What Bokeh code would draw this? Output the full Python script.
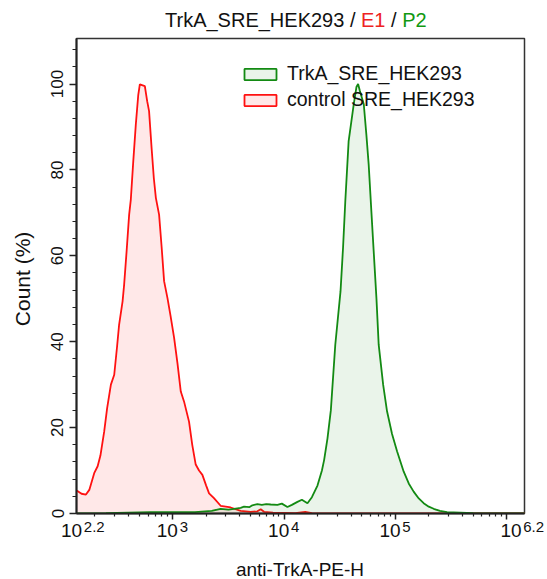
from bokeh.plotting import figure
from bokeh.layouts import column
from bokeh.models import Range1d, FixedTicker, Legend, LegendItem, Div
from bokeh.embed import file_html
from bokeh.resources import INLINE

# ---- data (x in log10 decades of anti-TrkA-PE-H, y in Count %) ----
control_log = [2.13, 2.14, 2.18, 2.22, 2.25, 2.294, 2.325, 2.35, 2.384, 2.41, 2.444,
               2.474, 2.50, 2.518, 2.549, 2.563, 2.585, 2.608, 2.623, 2.645, 2.668,
               2.69, 2.704, 2.749, 2.77, 2.787, 2.81, 2.83, 2.848, 2.877, 2.90, 2.922,
               2.952, 2.98, 3.012, 3.042, 3.072, 3.101, 3.146, 3.175, 3.206, 3.236,
               3.266, 3.30, 3.326, 3.37, 3.43, 3.52, 3.61, 3.70, 3.76, 3.79, 3.82,
               3.90, 4.10, 4.19, 4.25, 4.50, 5.00, 6.17]
control_count = [5.4, 5.3, 4.6, 4.4, 5.5, 9.4, 11.0, 13.5, 19.1, 24.5, 30.0,
                 32.3, 39.0, 44.0, 49.4, 53.3, 61.0, 69.6, 73.1, 82.0, 90.6,
                 97.5, 99.9, 99.5, 96.0, 93.7, 85.0, 78.0, 73.5, 69.6, 62.0, 54.1,
                 50.2, 46.0, 40.9, 35.0, 28.4, 26.1, 21.4, 16.0, 11.4, 10.0,
                 9.0, 6.5, 4.7, 3.6, 1.8, 1.4, 0.6, 0.4, 0.5, 1.0, 0.4,
                 0.2, 0.1, 0.4, 0.1, 0.05, 0.0, 0.0]

trka_log = [2.13, 2.40, 2.80, 3.20, 3.35, 3.43, 3.50, 3.55, 3.61, 3.64, 3.69, 3.715,
            3.76, 3.80, 3.84, 3.88, 3.94, 3.98, 4.03, 4.07, 4.12, 4.16, 4.21, 4.25,
            4.30, 4.34, 4.36, 4.39, 4.42, 4.46, 4.507, 4.53, 4.55, 4.58, 4.626, 4.65,
            4.665, 4.68, 4.716, 4.74, 4.76, 4.785, 4.805, 4.83, 4.85, 4.89, 4.925,
            4.97, 5.015, 5.074, 5.12, 5.164, 5.21, 5.254, 5.30, 5.344, 5.40, 5.464,
            5.70, 6.00, 6.17]
trka_count = [0.0, 0.1, 0.3, 0.3, 0.6, 1.1, 0.9, 1.1, 1.3, 1.6, 1.5, 1.9,
              2.2, 2.0, 2.2, 2.1, 2.0, 2.3, 1.5, 2.0, 2.7, 3.2, 2.4, 3.8,
              6.5, 10.0, 12.5, 17.5, 24.0, 39.3, 51.7, 62.0, 72.7, 86.7, 95.3, 99.3,
              100.0, 98.5, 95.3, 88.0, 81.3, 70.0, 61.1, 50.0, 39.3, 30.0, 23.8,
              18.5, 14.5, 9.8, 7.0, 5.1, 3.5, 2.4, 1.6, 1.1, 0.6, 0.3,
              0.1, 0.0, 0.0]

series_names = ["TrkA_SRE_HEK293", "control SRE_HEK293"]
title_main, title_gate1, title_gate2 = "TrkA_SRE_HEK293", "E1", "P2"
x_label_exps = ["2.2", "3", "4", "5", "6.2"]
x_label_decades = [2.2, 3, 4, 5, 6.2]
y_major = [0, 20, 40, 60, 80, 100]
x_title = "anti-TrkA-PE-H"
y_title = "Count  (%)"

FONT = "Liberation Sans"
INK = "#111111"

# ---- layout constants (pixels) ----
W = 547
FL, FR, FW, FH = 76, 23, 448, 475          # frame left/right border, frame size
TOP_H, BOT_H = 36, 58                      # title strip and bottom label strip
X0, X1 = 2.135, 6.16                       # x range in decades
PX_PER_DEC = FW / (X1 - X0)

x_major = [10.0 ** d for d in (3, 4, 5, 6)]
x_minor = [k * 10.0 ** n for n in (2, 3, 4, 5) for k in range(2, 10)]
y_minor = [v for v in range(0, 112, 4) if v % 20]

# ---------------- main plot ----------------
p = figure(frame_width=FW, frame_height=FH, x_axis_type="log",
           x_range=Range1d(10 ** X0, 10 ** X1), y_range=Range1d(0, 110.6),
           output_backend="svg", toolbar_location=None,
           min_border_left=FL, min_border_right=FR, min_border_top=2, min_border_bottom=8)
p.background_fill_color = "white"
p.border_fill_color = "white"
p.outline_line_color = "#333333"
p.outline_line_width = 1.5
p.grid.visible = False

def poly(logs, counts):
    xs = [10.0 ** logs[0]] + [10.0 ** v for v in logs] + [10.0 ** logs[-1]]
    ys = [-2.0] + list(counts) + [-2.0]
    return xs, ys

gx, gy = poly(trka_log, trka_count)
rx, ry = poly(control_log, control_count)
r_red = p.patch(rx, ry, fill_color="#ff0000", fill_alpha=0.09,
                line_color="#ff1111", line_width=1.8)
r_green = p.patch(gx, gy, fill_color="#118811", fill_alpha=0.09,
                  line_color="#138a13", line_width=1.8)

legend = Legend(items=[LegendItem(label=series_names[0], renderers=[r_green]),
                       LegendItem(label=series_names[1], renderers=[r_red])],
                location=(164, 402), padding=0, margin=0, spacing=3,
                glyph_width=40, glyph_height=14, label_height=14, label_standoff=7,
                label_text_font=FONT, label_text_font_size="19.5px",
                label_text_color=INK, border_line_color=None,
                background_fill_alpha=0)
p.add_layout(legend)

for ax in (p.xaxis[0], p.yaxis[0]):
    ax.axis_line_width = 2
    ax.axis_line_color = "#222222"
    ax.major_tick_line_color = "#222222"
    ax.minor_tick_line_color = "#222222"
    ax.major_tick_line_width = 1.5
    ax.minor_tick_line_width = 1.2
    ax.major_tick_in = 0
    ax.minor_tick_in = 0
    ax.axis_label_text_font = FONT
    ax.axis_label_text_font_style = "normal"
    ax.axis_label_text_color = INK
    ax.major_label_text_font = FONT
    ax.major_label_text_color = INK

xa = p.xaxis[0]
xa.ticker = FixedTicker(ticks=x_major, minor_ticks=x_minor)
xa.major_tick_out = 6
xa.minor_tick_out = 3
xa.major_label_text_font_size = "1px"
xa.major_label_text_alpha = 0
xa.major_label_standoff = 0
xa.major_label_overrides = {v: " " for v in x_major}

ya = p.yaxis[0]
ya.ticker = FixedTicker(ticks=y_major, minor_ticks=y_minor)
ya.major_tick_out = 7
ya.minor_tick_out = 4
ya.major_label_orientation = "vertical"
ya.major_label_text_font_size = "17px"
ya.major_label_standoff = 6
ya.axis_label = y_title
ya.axis_label_text_font_size = "21px"
ya.axis_label_standoff = 15

# ---------------- title strip (HTML text) ----------------
title_html = (
    f'<div style="padding:10px 0 0 165px;font-family:\'{FONT}\';font-size:20px;'
    f'line-height:20px;color:{INK};white-space:nowrap;">'
    f'{title_main} / <span style="color:#ee2222">{title_gate1}</span> / '
    f'<span style="color:#119911">{title_gate2}</span></div>'
)
title_div = Div(text=title_html, width=W, height=TOP_H, margin=0)

# ---------------- bottom strip: x tick labels + axis label ----------------
def tick_px(d):
    return FL + (d - X0) * PX_PER_DEC

spans = []
for d, e in zip(x_label_decades, x_label_exps):
    shift = 5.6 if e in ("3", "4", "5") else (-1.1 if d < 3 else -7.0)
    right_of_base = tick_px(d) + shift
    spans.append(
        f'<div style="position:absolute;left:{right_of_base - 21.1:.1f}px;top:0px;'
        f'white-space:nowrap;font-size:19px;line-height:19px;">10'
        f'<span style="font-size:15px;position:relative;top:-5px;margin-left:1.7px;">{e}</span></div>'
    )
spans.append(
    f'<div style="position:absolute;left:{FL}px;width:{FW}px;top:39px;text-align:center;'
    f'font-size:19px;line-height:19px;white-space:nowrap;">{x_title}</div>'
)
bottom_html = (
    f'<div style="position:relative;width:{W}px;height:{BOT_H}px;'
    f'font-family:\'{FONT}\';color:{INK};">' + "".join(spans) + '</div>'
)
bottom_div = Div(text=bottom_html, width=W, height=BOT_H, margin=0)

layout = column(title_div, p, bottom_div, spacing=0)
open("out.html", "w").write(file_html(layout, INLINE))
